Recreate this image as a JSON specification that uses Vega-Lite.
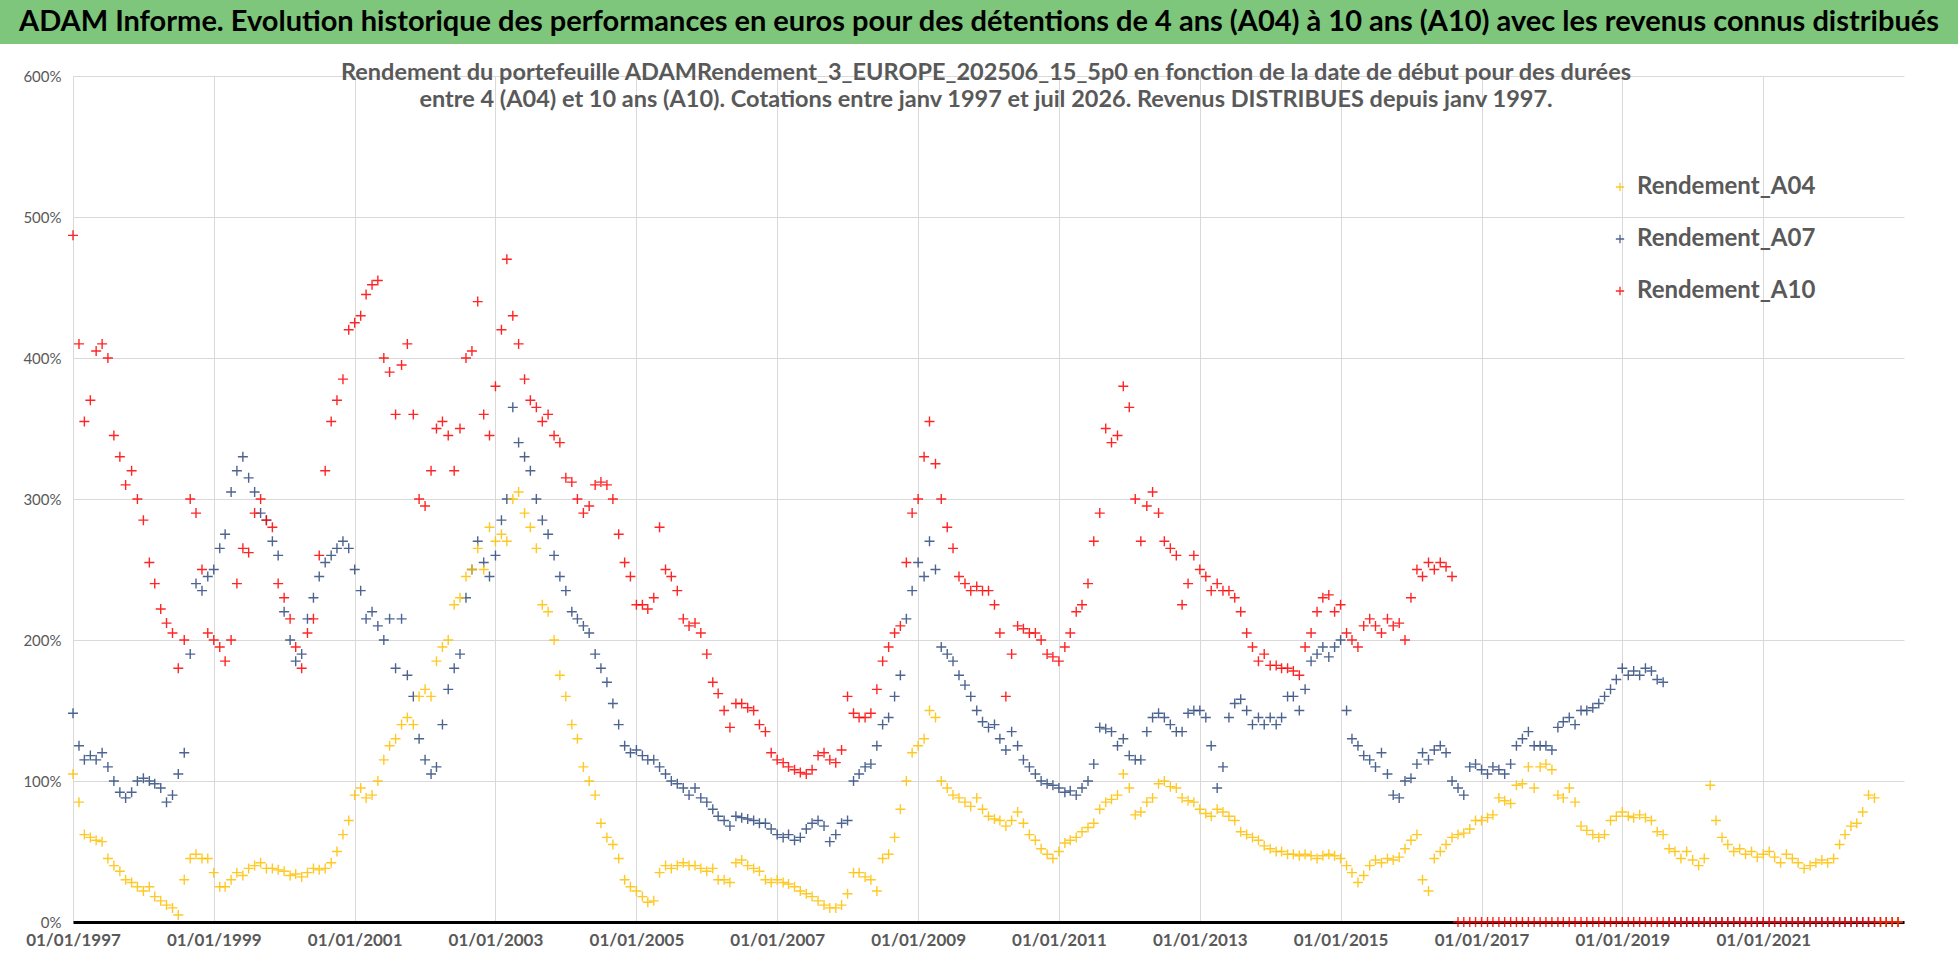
{
  "$schema": "https://vega.github.io/schema/vega-lite/v6.json",
  "padding": 0,
  "background": "white",
  "config": {
    "view": {"stroke": null},
    "font": "Lato",
    "axis": {"labelFont": "Lato", "gridColor": "#D9D9D9", "gridWidth": 1}
  },
  "spacing": 16,
  "vconcat": [
    {
      "width": 1958,
      "height": 44,
      "view": {"fill": "#7DC67B", "stroke": null},
      "data": {"values": [{"t": "ADAM Informe. Evolution historique des performances en euros pour des détentions de 4 ans (A04) à 10 ans (A10) avec les revenus connus distribués"}]},
      "mark": {"type": "text", "font": "Lato", "fontSize": 29, "fontWeight": "bold", "color": "#000000", "align": "center", "baseline": "middle"},
      "encoding": {"text": {"field": "t"}}
    },
    {
      "width": 1904,
      "height": 846,
      "title": {
        "text": [
          "Rendement du portefeuille ADAMRendement_3_EUROPE_202506_15_5p0  en fonction de la date de début pour des durées",
          "entre 4 (A04) et 10 ans (A10). Cotations entre janv 1997 et juil 2026. Revenus DISTRIBUES depuis janv 1997."
        ],
        "anchor": "middle",
        "frame": "group",
        "dx": 34,
        "font": "Lato",
        "fontSize": 23.5,
        "fontWeight": "bold",
        "color": "#595959",
        "lineHeight": 27,
        "offset": -42
      },
      "data": {"values": [
        {"d":"1997-01","a":105,"b":148,"c":487},{"d":"1997-02","a":85,"b":125,"c":410},{"d":"1997-03","a":62,"b":115,"c":355},{"d":"1997-04","a":60,"b":118,"c":370},{"d":"1997-05","a":58,"b":115,"c":405},{"d":"1997-06","a":57,"b":120,"c":410},{"d":"1997-07","a":45,"b":110,"c":400},{"d":"1997-08","a":40,"b":100,"c":345},{"d":"1997-09","a":36,"b":92,"c":330},{"d":"1997-10","a":30,"b":88,"c":310},{"d":"1997-11","a":28,"b":92,"c":320},{"d":"1997-12","a":25,"b":100,"c":300},
        {"d":"1998-01","a":22,"b":102,"c":285},{"d":"1998-02","a":25,"b":100,"c":255},{"d":"1998-03","a":18,"b":98,"c":240},{"d":"1998-04","a":15,"b":95,"c":222},{"d":"1998-05","a":12,"b":85,"c":212},{"d":"1998-06","a":10,"b":90,"c":205},{"d":"1998-07","a":5,"b":105,"c":180},{"d":"1998-08","a":30,"b":120,"c":200},{"d":"1998-09","a":45,"b":190,"c":300},{"d":"1998-10","a":48,"b":240,"c":290},{"d":"1998-11","a":45,"b":235,"c":250},{"d":"1998-12","a":45,"b":245,"c":205},
        {"d":"1999-01","a":35,"b":250,"c":200},{"d":"1999-02","a":25,"b":265,"c":195},{"d":"1999-03","a":25,"b":275,"c":185},{"d":"1999-04","a":30,"b":305,"c":200},{"d":"1999-05","a":35,"b":320,"c":240},{"d":"1999-06","a":33,"b":330,"c":265},{"d":"1999-07","a":38,"b":315,"c":262},{"d":"1999-08","a":40,"b":305,"c":290},{"d":"1999-09","a":42,"b":290,"c":300},{"d":"1999-10","a":38,"b":285,"c":285},{"d":"1999-11","a":38,"b":270,"c":280},{"d":"1999-12","a":37,"b":260,"c":240},
        {"d":"2000-01","a":36,"b":220,"c":230},{"d":"2000-02","a":33,"b":200,"c":215},{"d":"2000-03","a":34,"b":185,"c":195},{"d":"2000-04","a":32,"b":190,"c":180},{"d":"2000-05","a":35,"b":215,"c":205},{"d":"2000-06","a":38,"b":230,"c":215},{"d":"2000-07","a":37,"b":245,"c":260},{"d":"2000-08","a":38,"b":255,"c":320},{"d":"2000-09","a":42,"b":260,"c":355},{"d":"2000-10","a":50,"b":265,"c":370},{"d":"2000-11","a":62,"b":270,"c":385},{"d":"2000-12","a":72,"b":265,"c":420},
        {"d":"2001-01","a":90,"b":250,"c":425},{"d":"2001-02","a":95,"b":235,"c":430},{"d":"2001-03","a":88,"b":215,"c":445},{"d":"2001-04","a":90,"b":220,"c":452},{"d":"2001-05","a":100,"b":210,"c":455},{"d":"2001-06","a":115,"b":200,"c":400},{"d":"2001-07","a":125,"b":215,"c":390},{"d":"2001-08","a":130,"b":180,"c":360},{"d":"2001-09","a":140,"b":215,"c":395},{"d":"2001-10","a":145,"b":175,"c":410},{"d":"2001-11","a":140,"b":160,"c":360},{"d":"2001-12","a":160,"b":130,"c":300},
        {"d":"2002-01","a":165,"b":115,"c":295},{"d":"2002-02","a":160,"b":105,"c":320},{"d":"2002-03","a":185,"b":110,"c":350},{"d":"2002-04","a":195,"b":140,"c":355},{"d":"2002-05","a":200,"b":165,"c":345},{"d":"2002-06","a":225,"b":180,"c":320},{"d":"2002-07","a":230,"b":190,"c":350},{"d":"2002-08","a":245,"b":230,"c":400},{"d":"2002-09","a":250,"b":250,"c":405},{"d":"2002-10","a":265,"b":270,"c":440},{"d":"2002-11","a":250,"b":255,"c":360},{"d":"2002-12","a":280,"b":245,"c":345},
        {"d":"2003-01","a":270,"b":260,"c":380},{"d":"2003-02","a":275,"b":285,"c":420},{"d":"2003-03","a":270,"b":300,"c":470},{"d":"2003-04","a":300,"b":365,"c":430},{"d":"2003-05","a":305,"b":340,"c":410},{"d":"2003-06","a":290,"b":330,"c":385},{"d":"2003-07","a":280,"b":320,"c":370},{"d":"2003-08","a":265,"b":300,"c":365},{"d":"2003-09","a":225,"b":285,"c":355},{"d":"2003-10","a":220,"b":275,"c":360},{"d":"2003-11","a":200,"b":260,"c":345},{"d":"2003-12","a":175,"b":245,"c":340},
        {"d":"2004-01","a":160,"b":235,"c":315},{"d":"2004-02","a":140,"b":220,"c":312},{"d":"2004-03","a":130,"b":215,"c":300},{"d":"2004-04","a":110,"b":210,"c":290},{"d":"2004-05","a":100,"b":205,"c":295},{"d":"2004-06","a":90,"b":190,"c":310},{"d":"2004-07","a":70,"b":180,"c":312},{"d":"2004-08","a":60,"b":170,"c":310},{"d":"2004-09","a":55,"b":155,"c":300},{"d":"2004-10","a":45,"b":140,"c":275},{"d":"2004-11","a":30,"b":125,"c":255},{"d":"2004-12","a":25,"b":120,"c":245},
        {"d":"2005-01","a":22,"b":122,"c":225},{"d":"2005-02","a":18,"b":118,"c":225},{"d":"2005-03","a":14,"b":115,"c":222},{"d":"2005-04","a":15,"b":115,"c":230},{"d":"2005-05","a":35,"b":110,"c":280},{"d":"2005-06","a":40,"b":105,"c":250},{"d":"2005-07","a":38,"b":100,"c":245},{"d":"2005-08","a":40,"b":98,"c":235},{"d":"2005-09","a":42,"b":95,"c":215},{"d":"2005-10","a":40,"b":90,"c":210},{"d":"2005-11","a":40,"b":95,"c":212},{"d":"2005-12","a":38,"b":88,"c":205},
        {"d":"2006-01","a":36,"b":85,"c":190},{"d":"2006-02","a":38,"b":80,"c":170},{"d":"2006-03","a":30,"b":75,"c":162},{"d":"2006-04","a":30,"b":72,"c":150},{"d":"2006-05","a":28,"b":68,"c":138},{"d":"2006-06","a":42,"b":75,"c":155},{"d":"2006-07","a":44,"b":74,"c":155},{"d":"2006-08","a":40,"b":73,"c":152},{"d":"2006-09","a":38,"b":72,"c":150},{"d":"2006-10","a":36,"b":70,"c":140},{"d":"2006-11","a":30,"b":70,"c":135},{"d":"2006-12","a":28,"b":66,"c":120},
        {"d":"2007-01","a":30,"b":62,"c":115},{"d":"2007-02","a":28,"b":60,"c":113},{"d":"2007-03","a":27,"b":62,"c":110},{"d":"2007-04","a":25,"b":58,"c":108},{"d":"2007-05","a":22,"b":60,"c":106},{"d":"2007-06","a":20,"b":66,"c":105},{"d":"2007-07","a":18,"b":70,"c":108},{"d":"2007-08","a":15,"b":72,"c":118},{"d":"2007-09","a":12,"b":68,"c":120},{"d":"2007-10","a":10,"b":57,"c":115},{"d":"2007-11","a":10,"b":62,"c":113},{"d":"2007-12","a":12,"b":70,"c":122},
        {"d":"2008-01","a":20,"b":72,"c":160},{"d":"2008-02","a":35,"b":100,"c":148},{"d":"2008-03","a":35,"b":105,"c":145},{"d":"2008-04","a":32,"b":110,"c":145},{"d":"2008-05","a":30,"b":112,"c":148},{"d":"2008-06","a":22,"b":125,"c":165},{"d":"2008-07","a":45,"b":140,"c":185},{"d":"2008-08","a":48,"b":145,"c":195},{"d":"2008-09","a":60,"b":160,"c":205},{"d":"2008-10","a":80,"b":175,"c":210},{"d":"2008-11","a":100,"b":215,"c":255},{"d":"2008-12","a":120,"b":235,"c":290},
        {"d":"2009-01","a":125,"b":255,"c":300},{"d":"2009-02","a":130,"b":245,"c":330},{"d":"2009-03","a":150,"b":270,"c":355},{"d":"2009-04","a":145,"b":250,"c":325},{"d":"2009-05","a":100,"b":195,"c":300},{"d":"2009-06","a":95,"b":190,"c":280},{"d":"2009-07","a":90,"b":185,"c":265},{"d":"2009-08","a":88,"b":175,"c":245},{"d":"2009-09","a":85,"b":168,"c":240},{"d":"2009-10","a":82,"b":160,"c":235},{"d":"2009-11","a":88,"b":150,"c":238},{"d":"2009-12","a":80,"b":142,"c":235},
        {"d":"2010-01","a":75,"b":138,"c":235},{"d":"2010-02","a":73,"b":140,"c":225},{"d":"2010-03","a":72,"b":130,"c":205},{"d":"2010-04","a":68,"b":122,"c":160},{"d":"2010-05","a":72,"b":135,"c":190},{"d":"2010-06","a":78,"b":125,"c":210},{"d":"2010-07","a":70,"b":115,"c":208},{"d":"2010-08","a":62,"b":110,"c":205},{"d":"2010-09","a":58,"b":105,"c":205},{"d":"2010-10","a":52,"b":100,"c":200},{"d":"2010-11","a":48,"b":98,"c":190},{"d":"2010-12","a":45,"b":97,"c":188},
        {"d":"2011-01","a":50,"b":95,"c":185},{"d":"2011-02","a":56,"b":92,"c":195},{"d":"2011-03","a":58,"b":93,"c":205},{"d":"2011-04","a":60,"b":90,"c":220},{"d":"2011-05","a":64,"b":95,"c":225},{"d":"2011-06","a":67,"b":100,"c":240},{"d":"2011-07","a":70,"b":112,"c":270},{"d":"2011-08","a":80,"b":138,"c":290},{"d":"2011-09","a":85,"b":137,"c":350},{"d":"2011-10","a":87,"b":135,"c":340},{"d":"2011-11","a":90,"b":125,"c":345},{"d":"2011-12","a":105,"b":130,"c":380},
        {"d":"2012-01","a":95,"b":118,"c":365},{"d":"2012-02","a":76,"b":115,"c":300},{"d":"2012-03","a":78,"b":115,"c":270},{"d":"2012-04","a":85,"b":135,"c":295},{"d":"2012-05","a":88,"b":145,"c":305},{"d":"2012-06","a":98,"b":148,"c":290},{"d":"2012-07","a":100,"b":145,"c":270},{"d":"2012-08","a":96,"b":140,"c":265},{"d":"2012-09","a":95,"b":135,"c":260},{"d":"2012-10","a":88,"b":135,"c":225},{"d":"2012-11","a":86,"b":148,"c":240},{"d":"2012-12","a":85,"b":150,"c":260},
        {"d":"2013-01","a":80,"b":150,"c":250},{"d":"2013-02","a":77,"b":145,"c":245},{"d":"2013-03","a":75,"b":125,"c":235},{"d":"2013-04","a":80,"b":95,"c":240},{"d":"2013-05","a":78,"b":110,"c":235},{"d":"2013-06","a":75,"b":145,"c":235},{"d":"2013-07","a":72,"b":155,"c":230},{"d":"2013-08","a":64,"b":158,"c":220},{"d":"2013-09","a":62,"b":150,"c":205},{"d":"2013-10","a":60,"b":140,"c":195},{"d":"2013-11","a":58,"b":145,"c":185},{"d":"2013-12","a":54,"b":140,"c":190},
        {"d":"2014-01","a":52,"b":145,"c":182},{"d":"2014-02","a":50,"b":140,"c":182},{"d":"2014-03","a":50,"b":145,"c":180},{"d":"2014-04","a":48,"b":160,"c":180},{"d":"2014-05","a":48,"b":160,"c":178},{"d":"2014-06","a":47,"b":150,"c":175},{"d":"2014-07","a":48,"b":165,"c":195},{"d":"2014-08","a":47,"b":185,"c":205},{"d":"2014-09","a":45,"b":190,"c":220},{"d":"2014-10","a":47,"b":195,"c":230},{"d":"2014-11","a":48,"b":188,"c":232},{"d":"2014-12","a":47,"b":195,"c":220},
        {"d":"2015-01","a":45,"b":200,"c":225},{"d":"2015-02","a":40,"b":150,"c":205},{"d":"2015-03","a":35,"b":130,"c":200},{"d":"2015-04","a":28,"b":125,"c":195},{"d":"2015-05","a":33,"b":118,"c":210},{"d":"2015-06","a":40,"b":115,"c":215},{"d":"2015-07","a":44,"b":110,"c":210},{"d":"2015-08","a":42,"b":120,"c":205},{"d":"2015-09","a":45,"b":105,"c":215},{"d":"2015-10","a":44,"b":90,"c":210},{"d":"2015-11","a":46,"b":88,"c":212},{"d":"2015-12","a":52,"b":100,"c":200},
        {"d":"2016-01","a":58,"b":102,"c":230},{"d":"2016-02","a":62,"b":112,"c":250},{"d":"2016-03","a":30,"b":120,"c":245},{"d":"2016-04","a":22,"b":115,"c":255},{"d":"2016-05","a":45,"b":122,"c":250},{"d":"2016-06","a":50,"b":125,"c":255},{"d":"2016-07","a":55,"b":120,"c":252},{"d":"2016-08","a":60,"b":100,"c":245},{"d":"2016-09","a":62,"b":95,"c":0},{"d":"2016-10","a":63,"b":90,"c":0},{"d":"2016-11","a":66,"b":110,"c":0},{"d":"2016-12","a":72,"b":112,"c":0},
        {"d":"2017-01","a":72,"b":108,"c":0},{"d":"2017-02","a":74,"b":105,"c":0},{"d":"2017-03","a":76,"b":110,"c":0},{"d":"2017-04","a":88,"b":108,"c":0},{"d":"2017-05","a":86,"b":105,"c":0},{"d":"2017-06","a":84,"b":112,"c":0},{"d":"2017-07","a":97,"b":125,"c":0},{"d":"2017-08","a":98,"b":130,"c":0},{"d":"2017-09","a":110,"b":135,"c":0},{"d":"2017-10","a":95,"b":125,"c":0},{"d":"2017-11","a":110,"b":125,"c":0},{"d":"2017-12","a":112,"b":125,"c":0},
        {"d":"2018-01","a":108,"b":122,"c":0},{"d":"2018-02","a":90,"b":138,"c":0},{"d":"2018-03","a":88,"b":142,"c":0},{"d":"2018-04","a":95,"b":145,"c":0},{"d":"2018-05","a":85,"b":140,"c":0},{"d":"2018-06","a":68,"b":150,"c":0},{"d":"2018-07","a":65,"b":150,"c":0},{"d":"2018-08","a":62,"b":152,"c":0},{"d":"2018-09","a":60,"b":155,"c":0},{"d":"2018-10","a":62,"b":160,"c":0},{"d":"2018-11","a":72,"b":165,"c":0},{"d":"2018-12","a":75,"b":172,"c":0},
        {"d":"2019-01","a":78,"b":180,"c":0},{"d":"2019-02","a":75,"b":175,"c":0},{"d":"2019-03","a":74,"b":178,"c":0},{"d":"2019-04","a":76,"b":175,"c":0},{"d":"2019-05","a":74,"b":180,"c":0},{"d":"2019-06","a":72,"b":178,"c":0},{"d":"2019-07","a":64,"b":172,"c":0},{"d":"2019-08","a":62,"b":170,"c":0},{"d":"2019-09","a":52,"b":0,"c":0},{"d":"2019-10","a":50,"b":0,"c":0},{"d":"2019-11","a":45,"b":0,"c":0},{"d":"2019-12","a":50,"b":0,"c":0},
        {"d":"2020-01","a":44,"b":0,"c":0},{"d":"2020-02","a":40,"b":0,"c":0},{"d":"2020-03","a":45,"b":0,"c":0},{"d":"2020-04","a":97,"b":0,"c":0},{"d":"2020-05","a":72,"b":0,"c":0},{"d":"2020-06","a":60,"b":0,"c":0},{"d":"2020-07","a":55,"b":0,"c":0},{"d":"2020-08","a":50,"b":0,"c":0},{"d":"2020-09","a":52,"b":0,"c":0},{"d":"2020-10","a":48,"b":0,"c":0},{"d":"2020-11","a":50,"b":0,"c":0},{"d":"2020-12","a":46,"b":0,"c":0},
        {"d":"2021-01","a":48,"b":0,"c":0},{"d":"2021-02","a":50,"b":0,"c":0},{"d":"2021-03","a":46,"b":0,"c":0},{"d":"2021-04","a":42,"b":0,"c":0},{"d":"2021-05","a":48,"b":0,"c":0},{"d":"2021-06","a":45,"b":0,"c":0},{"d":"2021-07","a":42,"b":0,"c":0},{"d":"2021-08","a":38,"b":0,"c":0},{"d":"2021-09","a":40,"b":0,"c":0},{"d":"2021-10","a":42,"b":0,"c":0},{"d":"2021-11","a":44,"b":0,"c":0},{"d":"2021-12","a":42,"b":0,"c":0},
        {"d":"2022-01","a":45,"b":0,"c":0},{"d":"2022-02","a":55,"b":0,"c":0},{"d":"2022-03","a":62,"b":0,"c":0},{"d":"2022-04","a":68,"b":0,"c":0},{"d":"2022-05","a":70,"b":0,"c":0},{"d":"2022-06","a":78,"b":0,"c":0},{"d":"2022-07","a":90,"b":0,"c":0},{"d":"2022-08","a":88,"b":0,"c":0},{"d":"2022-09","a":0,"b":0,"c":0},{"d":"2022-10","a":0,"b":0,"c":0},{"d":"2022-11","a":0,"b":0,"c":0},{"d":"2022-12","a":0,"b":0,"c":0}
      ]},
      "encoding": {
        "x": {
          "field": "d",
          "type": "temporal",
          "scale": {"type": "utc", "range": [73, 1904], "domain": [{"year": 1997, "month": 1, "date": 1, "utc": true}, {"year": 2023, "month": 1, "date": 1, "utc": true}]},
          "axis": {
            "title": null,
            "format": "%d/%m/%Y",
            "values": [
              {"year": 1997, "month": 1, "date": 1, "utc": true},
              {"year": 1999, "month": 1, "date": 1, "utc": true},
              {"year": 2001, "month": 1, "date": 1, "utc": true},
              {"year": 2003, "month": 1, "date": 1, "utc": true},
              {"year": 2005, "month": 1, "date": 1, "utc": true},
              {"year": 2007, "month": 1, "date": 1, "utc": true},
              {"year": 2009, "month": 1, "date": 1, "utc": true},
              {"year": 2011, "month": 1, "date": 1, "utc": true},
              {"year": 2013, "month": 1, "date": 1, "utc": true},
              {"year": 2015, "month": 1, "date": 1, "utc": true},
              {"year": 2017, "month": 1, "date": 1, "utc": true},
              {"year": 2019, "month": 1, "date": 1, "utc": true},
              {"year": 2021, "month": 1, "date": 1, "utc": true}
            ],
            "labelFontSize": 17,
            "labelFontWeight": "bold",
            "labelColor": "#595959",
            "labelPadding": 10,
            "labelFlush": false,
            "labelOverlap": false,
            "ticks": false,
            "domainColor": "#000000",
            "domainWidth": 3
          }
        },
        "color": {
          "type": "nominal",
          "scale": {"domain": ["Rendement_A04", "Rendement_A07", "Rendement_A10"], "range": ["#FFC000", "#2E4A7E", "#FF0000"]},
          "legend": {
            "title": null,
            "orient": "none",
            "legendX": 1608,
            "legendY": 175,
            "padding": 0,
            "symbolType": "M-1,0L1,0M0,-1L0,1",
            "symbolSize": 70,
            "symbolStrokeWidth": 1.3,
            "labelFont": "Lato",
            "labelFontSize": 24,
            "labelFontWeight": "bold",
            "labelColor": "#595959",
            "labelOffset": 5,
            "labelLimit": 500,
            "rowPadding": 28
          }
        }
      },
      "layer": [
        {
          "mark": {"type": "point", "shape": "M-1,0L1,0M0,-1L0,1", "filled": false, "size": 100, "strokeWidth": 1.4, "opacity": 0.85},
          "encoding": {
            "y": {"field": "b", "type": "quantitative", "scale": {"domain": [0, 600], "nice": false}, "axis": {"title": null, "values": [0, 100, 200, 300, 400, 500, 600], "labelExpr": "datum.value + '%'", "labelFontSize": 15, "labelColor": "#595959", "labelPadding": 12, "domain": false, "ticks": false, "offset": -73, "minExtent": 0}},
            "color": {"datum": "Rendement_A07"}
          }
        },
        {
          "mark": {"type": "point", "shape": "M-1,0L1,0M0,-1L0,1", "filled": false, "size": 100, "strokeWidth": 1.4, "opacity": 0.85},
          "encoding": {
            "y": {"field": "a", "type": "quantitative"},
            "color": {"datum": "Rendement_A04"}
          }
        },
        {
          "mark": {"type": "point", "shape": "M-1,0L1,0M0,-1L0,1", "filled": false, "size": 100, "strokeWidth": 1.4, "opacity": 0.85},
          "encoding": {
            "y": {"field": "c", "type": "quantitative"},
            "color": {"datum": "Rendement_A10"}
          }
        }
      ]
    }
  ]
}
